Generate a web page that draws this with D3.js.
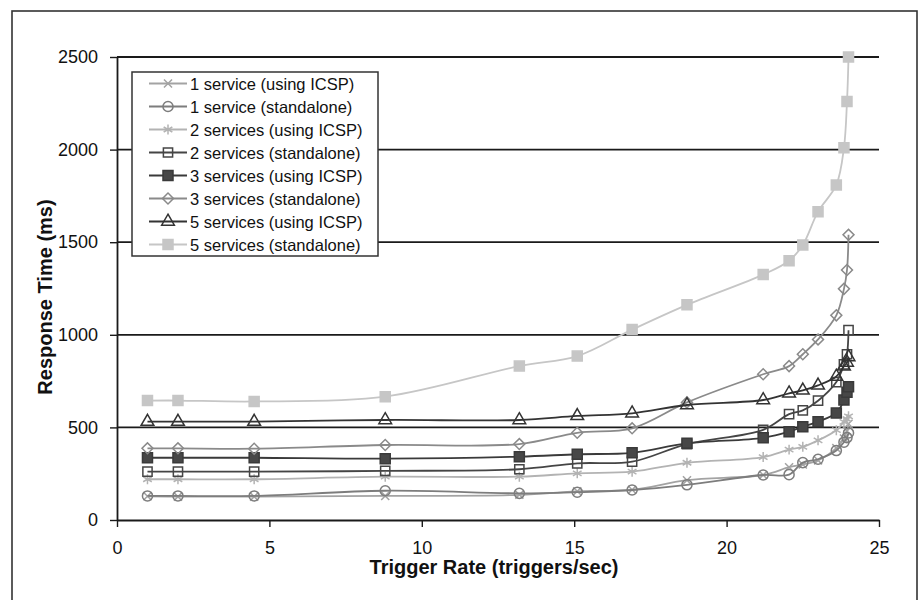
<!DOCTYPE html>
<html>
<head>
<meta charset="utf-8">
<script src="https://cdn.jsdelivr.net/npm/d3@7"></script>
<style>
body { margin: 0; background: #fff; }
svg text { font-family: "Liberation Sans", Arial, sans-serif; fill: #111; }
</style>
</head>
<body>
<div id="chart"></div>
<script>
// Trigger rates (triggers/sec), shared by every series
let rates = [1, 2, 4.5, 8.8, 13.2, 15.1, 16.9, 18.7, 21.2, 22.05, 22.5, 23.0, 23.6, 23.85, 23.95, 24.0];

// Response times (ms), one array per series
let oneIcsp   = [128, 126, 126, 130, 136, 155, 163, 215, 243, 285, 300, 322, 388, 440, 480, 520];
let oneAlone  = [130, 130, 130, 158, 144, 150, 162, 190, 243, 245, 310, 328, 375, 420, 445, 470];
let twoIcsp   = [220, 220, 220, 234, 234, 252, 261, 309, 340, 380, 395, 430, 485, 530, 545, 560];
let twoAlone  = [261, 261, 261, 265, 274, 306, 315, 410, 487, 572, 592, 644, 745, 840, 895, 1025];
let threeIcsp = [336, 336, 336, 331, 342, 355, 363, 414, 444, 477, 504, 531, 578, 648, 690, 720];
let threeAlone= [387, 387, 385, 405, 410, 471, 495, 635, 787, 831, 895, 975, 1105, 1248, 1350, 1540];
let fiveIcsp  = [531, 531, 531, 540, 540, 562, 576, 621, 648, 684, 700, 727, 775, 830, 850, 880];
let fiveAlone = [645, 645, 640, 666, 831, 885, 1028, 1162, 1325, 1400, 1485, 1665, 1809, 2010, 2260, 2500];

let seriesNames = [
    "1 service (using ICSP)",
    "1 service (standalone)",
    "2 services (using ICSP)",
    "2 services (standalone)",
    "3 services (using ICSP)",
    "3 services (standalone)",
    "5 services (using ICSP)",
    "5 services (standalone)"
];
let seriesValues = [oneIcsp, oneAlone, twoIcsp, twoAlone, threeIcsp, threeAlone, fiveIcsp, fiveAlone];

let xTicks = [0, 5, 10, 15, 20, 25];
let yTicks = [0, 500, 1000, 1500, 2000, 2500];

// Look of each series (same order as names)
let styles = [
    {color: '#a3a3a3', symbol: d3.symbolTimes,    fill: 'none',    size: 44, rotate: 0},
    {color: '#7d7d7d', symbol: d3.symbolCircle,   fill: 'none',    size: 80, rotate: 0},
    {color: '#b3b3b3', symbol: d3.symbolAsterisk, fill: 'none',    size: 70, rotate: 0},
    {color: '#454545', symbol: d3.symbolSquare,   fill: 'none',    size: 85, rotate: 0},
    {color: '#3a3a3a', symbol: d3.symbolSquare,   fill: '#474747', size: 100, rotate: 0},
    {color: '#8a8a8a', symbol: d3.symbolSquare,   fill: 'none',    size: 60, rotate: 45},
    {color: '#333333', symbol: d3.symbolTriangle, fill: 'none',    size: 70, rotate: 0},
    {color: '#c6c6c6', symbol: d3.symbolSquare,   fill: '#c6c6c6', size: 100, rotate: 0}
];

let width = 920;
let height = 600;

let svg = d3.select('#chart')
.append('svg')
.attr('width', width)
.attr('height', height);

// Outer frame of the figure (its bottom edge is cut off)
svg.append('rect')
.attr('x', 12)
.attr('y', 11)
.attr('width', 905)
.attr('height', 620)
.attr('fill', 'none')
.attr('stroke', '#333')
.attr('stroke-width', 1.6);

let x = d3.scaleLinear().domain([0, 25]).range([117, 879]);
let y = d3.scaleLinear().domain([0, 2500]).range([520, 57]);

// Horizontal grid lines
svg.append('g')
.selectAll('line')
.data(yTicks.slice(1))
.enter()
.append('line')
.attr('x1', x(0))
.attr('x2', x(25))
.attr('y1', function(d){ return y(d); })
.attr('y2', function(d){ return y(d); })
.attr('stroke', '#1a1a1a')
.attr('stroke-width', 1.8);

// Axes
let xAxis = svg.append('g')
.attr('transform', 'translate(0,' + y(0) + ')')
.call(d3.axisBottom(x).tickValues(xTicks).tickFormat(d3.format('d'))
    .tickSize(7).tickSizeOuter(0).tickPadding(14));

let yAxis = svg.append('g')
.attr('transform', 'translate(' + x(0) + ',0)')
.call(d3.axisLeft(y).tickValues(yTicks).tickFormat(d3.format('d'))
    .tickSize(7).tickSizeOuter(0).tickPadding(12));

[xAxis, yAxis].forEach(function(a){
    a.select('.domain').attr('stroke', '#1a1a1a').attr('stroke-width', 1.8);
    a.selectAll('.tick line').attr('stroke', '#1a1a1a').attr('stroke-width', 1.4);
    a.selectAll('.tick text').style('font-size', '18px').attr('fill', '#111');
});

// Axis titles
svg.append('text')
.attr('x', 494)
.attr('y', 567)
.attr('text-anchor', 'middle')
.attr('dominant-baseline', 'central')
.style('font-size', '20px')
.style('font-weight', 'bold')
.text('Trigger Rate (triggers/sec)');

svg.append('text')
.attr('transform', 'translate(45,297) rotate(-90)')
.attr('text-anchor', 'middle')
.attr('dominant-baseline', 'central')
.style('font-size', '20px')
.style('font-weight', 'bold')
.text('Response Time (ms)');

// Series lines and markers, first series at the bottom
let line = d3.line()
.x(function(d){ return x(d[0]); })
.y(function(d){ return y(d[1]); })
.curve(d3.curveCatmullRom.alpha(0.5));

let plot = svg.append('g');

function drawMarker(g, s, px, py){
    g.append('path')
    .attr('d', d3.symbol().type(s.symbol).size(s.size)())
    .attr('transform', 'translate(' + px + ',' + py + ') rotate(' + s.rotate + ')')
    .attr('fill', s.fill)
    .attr('stroke', s.color)
    .attr('stroke-width', 1.5);
}

seriesValues.forEach(function(vals, i){
    let s = styles[i];
    let pts = rates.map(function(r, j){ return [r, vals[j]]; });
    let g = plot.append('g');

    g.append('path')
    .datum(pts)
    .attr('d', line)
    .attr('fill', 'none')
    .attr('stroke', s.color)
    .attr('stroke-width', 1.8);

    pts.forEach(function(p){
        drawMarker(g, s, x(p[0]), y(p[1]));
    });
});

// Legend
let legend = svg.append('g');

legend.append('rect')
.attr('x', 132)
.attr('y', 72)
.attr('width', 246)
.attr('height', 184)
.attr('fill', '#fff')
.attr('stroke', '#333')
.attr('stroke-width', 1.5);

seriesNames.forEach(function(name, i){
    let s = styles[i];
    let ly = 83.5 + i * 23;
    let row = legend.append('g');

    row.append('line')
    .attr('x1', 149)
    .attr('x2', 187)
    .attr('y1', ly)
    .attr('y2', ly)
    .attr('stroke', s.color)
    .attr('stroke-width', 1.8);

    drawMarker(row, s, 168, ly);

    row.append('text')
    .attr('x', 190)
    .attr('y', ly)
    .attr('dominant-baseline', 'central')
    .style('font-size', '16.5px')
    .text(name);
});
</script>
</body>
</html>
